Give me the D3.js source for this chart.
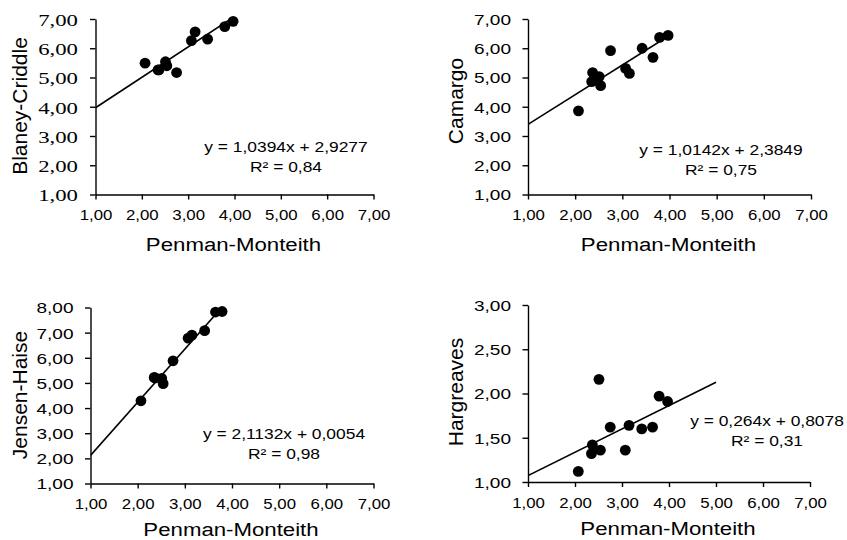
<!DOCTYPE html>
<html>
<head>
<meta charset="utf-8">
<script src="https://cdn.jsdelivr.net/npm/d3@7"></script>
<style>
  html, body { margin: 0; padding: 0; background: #fff; }
  svg { display: block; }
</style>
</head>
<body>
<svg id="chart" width="847" height="540"></svg>
<script>
// Penman-Monteith (x, shared by all four panels)
const penmanMonteith = [2.07, 2.35, 2.37, 2.51, 2.54, 2.75, 3.07, 3.15, 3.42, 3.65, 3.79, 3.97];
// other methods (y)
const blaneyCriddle = [5.49, 5.26, 5.26, 5.54, 5.40, 5.17, 6.26, 6.56, 6.31, 7.25, 6.74, 6.92];
const camargo = [3.86, 4.86, 5.17, 5.03, 4.72, 5.92, 5.31, 5.14, 6.00, 5.69, 6.37, 6.44];
const jensenHaise = [4.29, 5.22, 5.20, 5.18, 4.97, 5.88, 6.78, 6.90, 7.08, 7.82, 7.84, 8.20];
const hargreaves = [1.12, 1.32, 1.42, 2.16, 1.36, 1.62, 1.36, 1.64, 1.60, 1.62, 1.97, 1.91];

const methodNames = ["Blaney-Criddle", "Camargo", "Jensen-Haise", "Hargreaves"];
const slopes = [1.0394, 1.0142, 2.1132, 0.264];
const intercepts = [2.9277, 2.3849, 0.0054, 0.8078];
const equationLabels = ["y = 1,0394x + 2,9277", "y = 1,0142x + 2,3849", "y = 2,1132x + 0,0054", "y = 0,264x + 0,8078"];
const r2Labels = ["R² = 0,84", "R² = 0,75", "R² = 0,98", "R² = 0,31"];
const trendRanges = [[1, 3.97], [1, 3.97], [1, 3.97], [1, 5]];

const xTicks = [1, 2, 3, 4, 5, 6, 7];
const yTickSets = [
    [1, 2, 3, 4, 5, 6, 7],
    [1, 2, 3, 4, 5, 6, 7],
    [1, 2, 3, 4, 5, 6, 7, 8],
    [1, 1.5, 2, 2.5, 3]
];
const xTitle = "Penman-Monteith";

// placement of each panel (plot area in px)
const boxes = [
    { left: 95.5, right: 373.5, top: 19, bottom: 194.5, eqX: 286, eqY: 152, titleX: 26.5, titleY: 106, serif: true },
    { left: 528, right: 811, top: 19, bottom: 194.5, eqX: 721, eqY: 155, titleX: 463, titleY: 101, serif: false },
    { left: 90.5, right: 373.5, top: 307.5, bottom: 483.5, eqX: 284, eqY: 439, titleX: 26.5, titleY: 395, serif: false },
    { left: 528, right: 810, top: 305, bottom: 482, eqX: 767, eqY: 426, titleX: 463, titleY: 392, serif: false }
];

const SANS = "'Liberation Sans', Arial, Helvetica, sans-serif";
const SERIF = "'Liberation Serif', 'Times New Roman', serif";
const comma = d3.formatLocale({ decimal: ",", thousands: ".", grouping: [3], currency: ["", ""] }).format(".2f");

const yValues = [blaneyCriddle, camargo, jensenHaise, hargreaves];
const svg = d3.select("#chart");

function stretchedText(parent, x, y, str, size, sx, anchor) {
    return parent.append("text")
        .attr("transform", `translate(${x},${y}) scale(${sx},1)`)
        .attr("text-anchor", anchor)
        .attr("font-family", SANS)
        .attr("font-size", size)
        .attr("fill", "#000")
        .text(str);
}

function drawPanel(i) {
    const b = boxes[i];
    const yTicks = yTickSets[i];
    const g = svg.append("g");

    const x = d3.scaleLinear().domain([1, 7]).range([b.left, b.right]);
    const y = d3.scaleLinear().domain([yTicks[0], yTicks[yTicks.length - 1]]).range([b.bottom, b.top]);

    const clipId = "clip" + i;
    g.append("clipPath").attr("id", clipId)
        .append("rect")
        .attr("x", b.left).attr("y", b.top)
        .attr("width", b.right - b.left).attr("height", b.bottom - b.top);

    // x axis
    g.append("g")
        .attr("transform", `translate(0,${b.bottom})`)
        .call(d3.axisBottom(x).tickValues(xTicks).tickFormat(comma).tickSize(5).tickSizeOuter(0))
        .call(a => a.select(".domain").attr("stroke-width", 1.4))
        .call(a => a.selectAll(".tick line").attr("stroke-width", 1.4))
        .call(a => a.selectAll(".tick text")
            .attr("y", 0).attr("dy", null)
            .attr("transform", "translate(0,25.5) scale(1.12,1)")
            .attr("font-family", SANS).attr("font-size", 15).attr("fill", "#000"));

    // y axis
    g.append("g")
        .attr("transform", `translate(${b.left},0)`)
        .call(d3.axisLeft(y).tickValues(yTicks).tickFormat(comma).tickSize(5.5).tickSizeOuter(0))
        .call(a => a.select(".domain").attr("stroke-width", 1.4))
        .call(a => a.selectAll(".tick line").attr("stroke-width", 1.4))
        .call(a => a.selectAll(".tick text")
            .attr("x", 0).attr("dy", "0.36em")
            .attr("transform", b.serif ? "translate(-17.5,0) scale(1.3,1)" : "translate(-17,0) scale(1.27,1)")
            .attr("font-family", b.serif ? SERIF : SANS)
            .attr("font-size", b.serif ? 17.5 : 15)
            .attr("fill", "#000"));

    // trend line
    const range = trendRanges[i];
    const linePts = range.map(v => [v, slopes[i] * v + intercepts[i]]);
    g.append("path")
        .attr("clip-path", `url(#${clipId})`)
        .attr("d", d3.line().x(d => x(d[0])).y(d => y(d[1]))(linePts))
        .attr("fill", "none")
        .attr("stroke", "#000")
        .attr("stroke-width", 1.6);

    // points (values beyond the axis maximum are not shown, as in the original)
    const pts = penmanMonteith.map((v, k) => ({ x: v, y: yValues[i][k] }))
        .filter(d => d.y <= y.domain()[1]);
    g.selectAll(".point")
        .data(pts)
        .join("circle")
        .attr("class", "point")
        .attr("cx", d => x(d.x))
        .attr("cy", d => y(d.y))
        .attr("r", 5.4)
        .attr("fill", "#000");

    // equation and R²
    stretchedText(g, b.eqX, b.eqY, equationLabels[i], 15, 1.16, "middle").style("white-space", "pre");
    stretchedText(g, b.eqX, b.eqY + 19.5, r2Labels[i], 15, 1.16, "middle");

    // axis titles
    stretchedText(g, (b.left + b.right) / 2 - 1, b.bottom + (i < 2 ? 56 : 52.5), xTitle, 19, 1.17, "middle");
    g.append("text")
        .attr("transform", `translate(${b.titleX},${b.titleY}) rotate(-90)`)
        .attr("text-anchor", "middle")
        .attr("font-family", SANS)
        .attr("font-size", 21)
        .attr("fill", "#000")
        .text(methodNames[i]);
}

methodNames.forEach((name, i) => drawPanel(i));
</script>
</body>
</html>
